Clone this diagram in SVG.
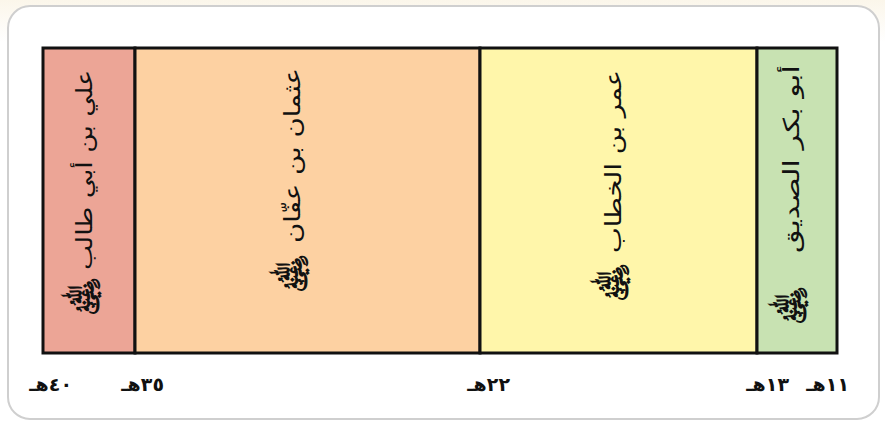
<svg xmlns="http://www.w3.org/2000/svg" width="885" height="424" viewBox="0 0 885 424">
<defs>
<linearGradient id="bg" x1="0" y1="0" x2="0" y2="1">
<stop offset="0" stop-color="#fbf6ea"/>
<stop offset="0.1" stop-color="#ffffff"/>
</linearGradient>
</defs>
<style>
.panel{stroke:#111;stroke-width:3}
.name{font-family:"DejaVu Sans",sans-serif;font-size:22px;fill:#111}
.hon{font-family:"DejaVu Sans",sans-serif;font-size:36px;font-weight:bold;fill:#111}
.yr{font-family:"DejaVu Sans",sans-serif;font-size:19px;font-weight:bold;fill:#111}
</style>
<rect x="0" y="0" width="885" height="424" fill="url(#bg)"/>
<rect x="8" y="6" width="871" height="413" rx="22" ry="22" fill="#ffffff" stroke="#cfcfcf" stroke-width="2"/>
<g id="ali">
<rect class="panel" x="43" y="48" width="92" height="305" fill="#eca596"/>
<text class="name" transform="translate(84,270) rotate(-90)" dominant-baseline="central" textLength="200" lengthAdjust="spacingAndGlyphs">علي بن أبي طالب</text>
<text class="hon" transform="translate(84,296) rotate(-90)" text-anchor="middle" dominant-baseline="central">﵁</text>
</g>
<g id="othman">
<rect class="panel" x="135" y="48" width="345" height="305" fill="#fdd1a2"/>
<text class="name" transform="translate(292,243) rotate(-90)" dominant-baseline="central" textLength="175" lengthAdjust="spacingAndGlyphs">عثمان بن عفّان</text>
<text class="hon" transform="translate(292,273) rotate(-90)" text-anchor="middle" dominant-baseline="central">﵁</text>
</g>
<g id="omar">
<rect class="panel" x="480" y="48" width="277" height="305" fill="#fff6aa"/>
<text class="name" transform="translate(613,253) rotate(-90)" dominant-baseline="central" textLength="183" lengthAdjust="spacingAndGlyphs">عمر بن الخطاب</text>
<text class="hon" transform="translate(613,282) rotate(-90)" text-anchor="middle" dominant-baseline="central">﵁</text>
</g>
<g id="abubakr">
<rect class="panel" x="757" y="48" width="80" height="305" fill="#c8e2b2"/>
<text class="name" transform="translate(791,253) rotate(-90)" dominant-baseline="central" textLength="188" lengthAdjust="spacingAndGlyphs">أبو بكر الصديق</text>
<text class="hon" transform="translate(791,305) rotate(-90)" text-anchor="middle" dominant-baseline="central">﵁</text>
</g>
<g id="years">
<text class="yr" x="72" y="391" text-anchor="end">٤٠هـ</text>
<text class="yr" x="164" y="391" text-anchor="end">٣٥هـ</text>
<text class="yr" x="510" y="391" text-anchor="end">٢٢هـ</text>
<text class="yr" x="789" y="391" text-anchor="end">١٣هـ</text>
<text class="yr" x="849" y="391" text-anchor="end">١١هـ</text>
</g>
</svg>
